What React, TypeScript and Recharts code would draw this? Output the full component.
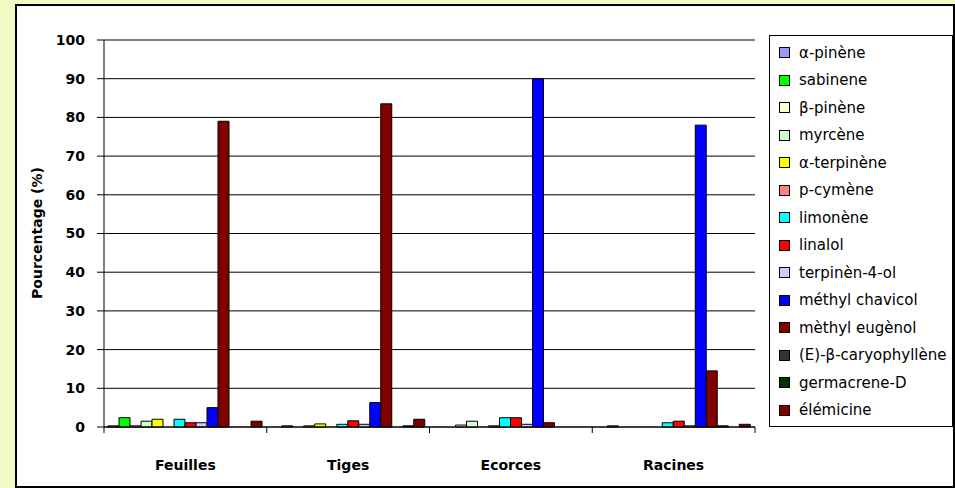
import React from "react";
import { BarChart, Bar, XAxis, YAxis, CartesianGrid, ReferenceLine } from "recharts";

const categories = ["Feuilles", "Tiges", "Ecorces", "Racines"];

const compounds = [
  "α-pinène",
  "sabinene",
  "β-pinène",
  "myrcène",
  "α-terpinène",
  "p-cymène",
  "limonène",
  "linalol",
  "terpinèn-4-ol",
  "méthyl chavicol",
  "mèthyl eugènol",
  "(E)-β-caryophyllène",
  "germacrene-D",
  "élémicine",
];

const colors = [
  "#9999FF",
  "#00FF00",
  "#FFFFCC",
  "#CCFFCC",
  "#FFFF00",
  "#FF8080",
  "#00FFFF",
  "#FF0000",
  "#CCCCFF",
  "#0000FF",
  "#800000",
  "#333333",
  "#003300",
  "#800000",
];

// values per compound, in the order of categories
const alphaPinene = [0.3, 0, 0, 0];
const sabinene = [2.4, 0.3, 0, 0.3];
const betaPinene = [0.3, 0, 0.5, 0];
const myrcene = [1.5, 0.3, 1.5, 0];
const alphaTerpinene = [2.0, 0.8, 0, 0];
const pCymene = [0, 0, 0.3, 0];
const limonene = [2.0, 0.7, 2.4, 1.1];
const linalol = [1.1, 1.6, 2.4, 1.5];
const terpinen4ol = [1.1, 0.7, 0.7, 0.3];
const methylChavicol = [5.0, 6.3, 90, 78];
const methylEugenol = [79, 83.5, 1.1, 14.5];
const caryophyllene = [0, 0, 0, 0.3];
const germacreneD = [0, 0.3, 0, 0];
const elemicine = [1.5, 2.0, 0, 0.7];

const seriesValues = [
  alphaPinene,
  sabinene,
  betaPinene,
  myrcene,
  alphaTerpinene,
  pCymene,
  limonene,
  linalol,
  terpinen4ol,
  methylChavicol,
  methylEugenol,
  caryophyllene,
  germacreneD,
  elemicine,
];

const yTicks = [0, 10, 20, 30, 40, 50, 60, 70, 80, 90, 100];

// one row per category, keys s0..s13 for the compounds
const data = categories.map((name, i) => {
  const row: Record<string, string | number> = { name };
  seriesValues.forEach((vals, j) => {
    row["s" + j] = vals[i];
  });
  return row;
});

const FONT = "'DejaVu Sans', sans-serif";

// category label plus tick marks on the category boundaries
const CategoryTick = (props: any) => {
  const { x, y, payload, index } = props;
  const half = payload && payload.offset ? payload.offset : 81.4;
  const last = index === categories.length - 1;
  return (
    <g>
      <line x1={x - half} y1={y} x2={x - half} y2={y + 6} stroke="#000" />
      {last && <line x1={x + half} y1={y} x2={x + half} y2={y + 6} stroke="#000" />}
      <text
        x={x}
        y={y + 43}
        textAnchor="middle"
        fontFamily={FONT}
        fontWeight="bold"
        fontSize={14}
        fill="#000"
      >
        {payload.value}
      </text>
    </g>
  );
};

const App: React.FC = () => {
  return (
    <div
      style={{
        position: "absolute",
        left: 0,
        top: 0,
        width: 955,
        height: 488,
        background: "#F1FAC4",
        fontFamily: FONT,
        overflow: "hidden",
      }}
    >
      <div
        style={{
          position: "absolute",
          left: 15,
          top: 4,
          width: 940,
          height: 484,
          border: "2px solid #000",
          boxSizing: "border-box",
          background: "#fff",
        }}
      />
      <div style={{ position: "absolute", left: 0, top: 0 }}>
        <BarChart
          width={955}
          height={488}
          data={data}
          margin={{ top: 40, right: 200, left: 0, bottom: 0 }}
          barGap={0}
          barSize={11}
        >
          <CartesianGrid yAxisId="l" vertical={false} stroke="#000" />
          <XAxis
            dataKey="name"
            height={61}
            tickLine={false}
            tickSize={0}
            tickMargin={0}
            axisLine={{ stroke: "#000" }}
            tick={<CategoryTick />}
            interval={0}
          />
          <YAxis
            yAxisId="l"
            width={104}
            domain={[0, 100]}
            ticks={yTicks}
            tickSize={7}
            tickMargin={12}
            axisLine={{ stroke: "#000" }}
            tickLine={{ stroke: "#000" }}
            tick={{ fill: "#000", fontSize: 14, fontWeight: "bold", fontFamily: FONT }}
          />
          <YAxis
            yAxisId="r"
            orientation="right"
            width={0}
            tick={false}
            tickLine={false}
            axisLine={{ stroke: "#808080" }}
          />
          <ReferenceLine yAxisId="l" y={100} stroke="#808080" />
          {compounds.map((c, j) => (
            <Bar
              key={c}
              yAxisId="l"
              dataKey={"s" + j}
              name={c}
              fill={colors[j]}
              stroke="#000"
              strokeWidth={1}
              isAnimationActive={false}
            />
          ))}
        </BarChart>
      </div>
      <div
        style={{
          position: "absolute",
          left: 37,
          top: 233,
          transform: "translate(-50%, -50%) rotate(-90deg)",
          fontWeight: "bold",
          fontSize: 14,
          whiteSpace: "nowrap",
          color: "#000",
        }}
      >
        Pourcentage (%)
      </div>
      <div
        style={{
          position: "absolute",
          left: 769,
          top: 35,
          width: 184,
          height: 392,
          border: "1px solid #000",
          boxSizing: "border-box",
          background: "#fff",
          paddingTop: 3,
        }}
      >
        {compounds.map((c, i) => (
          <div
            key={c}
            style={{
              height: 27.5,
              display: "flex",
              alignItems: "center",
              paddingLeft: 9,
              fontSize: 15,
              color: "#000",
              whiteSpace: "nowrap",
            }}
          >
            <span
              style={{
                display: "inline-block",
                width: 9,
                height: 9,
                background: colors[i],
                border: "1px solid #000",
                marginRight: 9,
                flexShrink: 0,
              }}
            />
            {c}
          </div>
        ))}
      </div>
    </div>
  );
};

export default App;
